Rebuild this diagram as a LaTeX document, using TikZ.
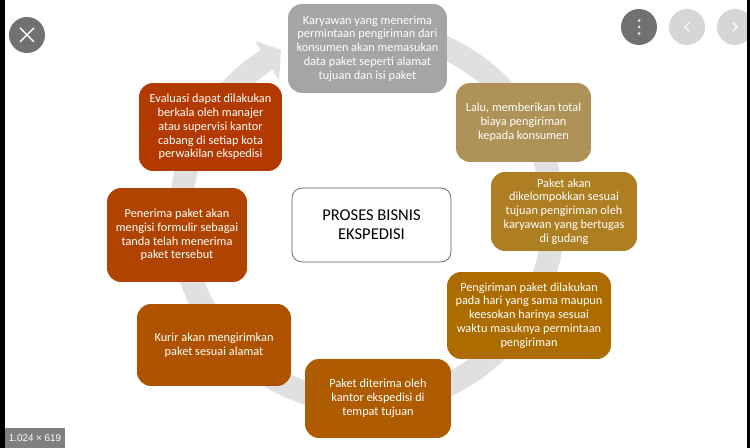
\documentclass[tikz,border=0pt]{standalone}
\usepackage{fontspec}
\setmainfont{Carlito}
\newfontfamily\badgefont{Liberation Sans}
\definecolor{ringgray}{HTML}{E0E0E0}
\definecolor{btndark}{HTML}{707173}
\definecolor{btnlight}{HTML}{D6D6D6}
\tikzset{
  stepbox/.style={rounded corners=0.28cm,inner sep=0pt,align=center,text=white,
    font=\fontsize{7}{7.85}\selectfont},
  titlebox/.style={draw=black!65,rounded corners=0.2cm,fill=white,inner sep=0pt,align=center,
    font=\fontsize{9.4}{11}\selectfont},
  btn/.style={circle,inner sep=0pt,minimum size=0.72cm},
}

\begin{document}
\begin{tikzpicture}[x=0.02cm,y=-0.02cm]
\useasboundingbox (0,0) rectangle (750,448);
\fill[white] (0,0) rectangle (750,448);
% ring with arrow head
\draw[ringgray,line width=0.46cm] plot[domain=290:598,samples=90] ({367+186.5*cos(\x)},{217+186.5*sin(\x)});
\fill[ringgray] (255,41)--(281,50)--(279,80)--cycle;
% steps
\node[stepbox,fill={rgb,255:red,165;green,165;blue,165},minimum width=3.18cm,minimum height=1.78cm] (karyawan) at (367.5,48.5) {Karyawan yang menerima\\permintaan pengiriman dari\\konsumen akan memasukan\\data paket seperti alamat\\tujuan dan isi paket};
\node[stepbox,fill={rgb,255:red,174;green,146;blue,87},minimum width=2.7cm,minimum height=1.58cm] (biaya) at (523.5,122.5) {Lalu, memberikan total\\biaya pengiriman\\kepada konsumen};
\node[stepbox,fill={rgb,255:red,174;green,126;blue,34},minimum width=2.92cm,minimum height=1.58cm] (kelompok) at (564,211.5) {Paket akan\\dikelompokkan sesuai\\tujuan pengiriman oleh\\karyawan yang bertugas\\di gudang};
\node[stepbox,fill={rgb,255:red,172;green,108;blue,0},minimum width=3.28cm,minimum height=1.74cm] (kirim) at (529,315.5) {Pengiriman paket dilakukan\\pada hari yang sama maupun\\keesokan harinya sesuai\\waktu masuknya permintaan\\pengiriman};
\node[stepbox,fill={rgb,255:red,175;green,92;blue,0},minimum width=2.92cm,minimum height=1.58cm] (terima) at (378,398.5) {Paket diterima oleh\\kantor ekspedisi di\\tempat tujuan};
\node[stepbox,fill={rgb,255:red,174;green,82;blue,0},minimum width=3.08cm,minimum height=1.64cm] (kurir) at (214,345) {Kurir akan mengirimkan\\paket sesuai alamat};
\node[stepbox,fill={rgb,255:red,176;green,67;blue,0},minimum width=2.8cm,minimum height=1.88cm] (penerima) at (177,235) {Penerima paket akan\\mengisi formulir sebagai\\tanda telah menerima\\paket tersebut};
\node[stepbox,fill={rgb,255:red,178;green,58;blue,0},minimum width=2.86cm,minimum height=1.76cm] (evaluasi) at (210.5,127) {Evaluasi dapat dilakukan\\berkala oleh manajer\\atau supervisi kantor\\cabang di setiap kota\\perwakilan ekspedisi};
\node[titlebox,minimum width=3.18cm,minimum height=1.48cm] (judul) at (371.5,225) {PROSES BISNIS\\EKSPEDISI};
% viewer buttons
\node[btn,fill=btndark] (tutup) at (27,35) {};
\draw[white,line width=0.8pt] (20,28)--(34,42);
\draw[white,line width=0.8pt] (34,28)--(20,42);
\node[btn,fill=btndark] (menu) at (639,27) {};
\fill[btnlight!60!white] (639,20.5) circle (1.5*0.02cm);
\fill[btnlight!60!white] (639,27) circle (1.5*0.02cm);
\fill[btnlight!60!white] (639,33.5) circle (1.5*0.02cm);
\node[btn,fill=btnlight] (mundur) at (687,27) {};
\draw[white,line width=0.7pt] (689,23)--(685,27)--(689,31);
\node[btn,fill=btnlight] (maju) at (735,27) {};
\draw[white,line width=0.7pt] (733,23)--(737,27)--(733,31);
% frame strips
\fill[black] (0,0) rectangle (5,448);
\fill[black] (746.5,0) rectangle (750,448);
\node[fill=black!50,text=white,inner sep=0pt,minimum width=1.2cm,minimum height=0.4cm,font=\badgefont\fontsize{5.6}{6}\selectfont] (ukuran) at (35,438) {1.024 × 619};
\end{tikzpicture}
\end{document}
